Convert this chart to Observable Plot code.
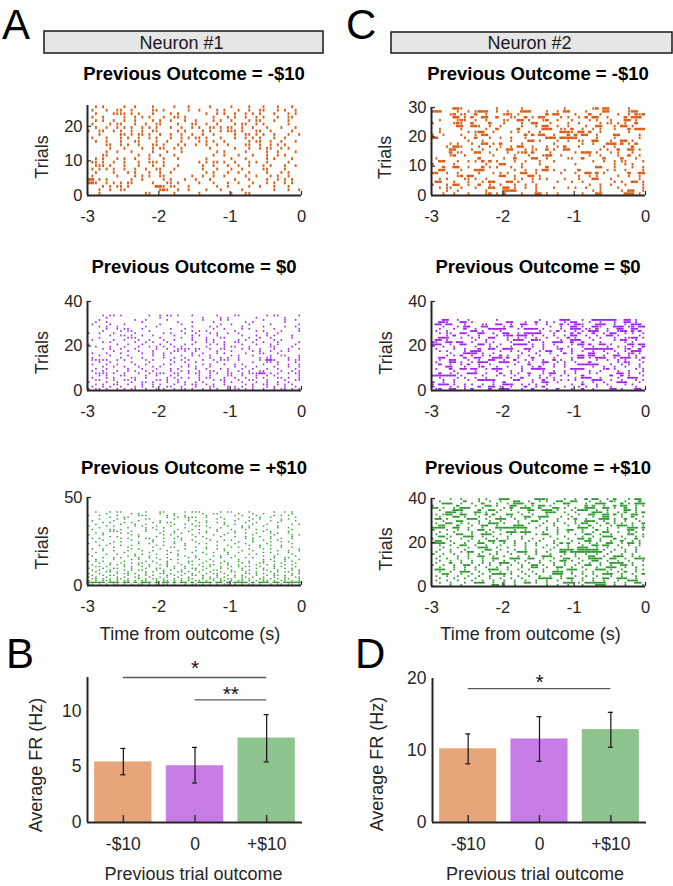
<!DOCTYPE html>
<html><head><meta charset="utf-8">
<script src="https://cdn.jsdelivr.net/npm/d3@7"></script>
<script src="https://cdn.jsdelivr.net/npm/@observablehq/plot@0.6"></script>
<style>
body{margin:0;background:#fff;}
#fig{position:relative;width:673px;height:886px;overflow:hidden;background:#fff;font-family:"Liberation Sans",Arial,Helvetica,sans-serif;}
.panel{position:absolute;}
#ann{position:absolute;left:0;top:0;pointer-events:none;}
</style></head><body><div id="fig"></div>
<script>
// ---------------- DATA ----------------
// Raster rows, top trial first; each character is a 50 ms bin from -3 s to 0 s.
// 'i' = single spike, '-' = burst filling the bin, '.' = no spike.
const timeTicks = [-3, -2, -1, 0];

const rasterA_neg = [
"..i.i.....i..i....i.....i...i.....i.....i....i...i...i...i..",
".i...i..ii..i.....ii.i......i..i....i.i...i..i..ii...i.i..i.",
"..i....iiii.i.i...i....i.i.......i..i.i..i..i.i.i...i...i.i.",
".i..i.....i..i.i.i...i..ii.i.......i...i.i..i..i.i...i..ii..",
"..i.i..i..i..i....i.i..i...i..i....i.i..i....i.ii...i...i...",
".i....i.ii...i..i..ii....i...ii..i..i....i.ii..i.i......i...",
"..i..i..i.i.i..i.i.i...i..i..i.i..ii.i.ii..i..i...i...i...i.",
"i..ii..i.i..i..i..ii.....i.i....i.i..i.iii.i...ii..i.....i..",
"...i.....ii.i.ii.i..i..i..i..i..i..i.....i..ii.i.i..i...i..i",
".i...i...i.i..i..i.i...i..i.i.ii.i...i...i..i.i.i...i..i....",
"..i..i...i...ii....i..i...i....i.i.i..i......i.ii..i..i...i.",
".....ii..i.i..i...ii.i...i.i..i..i..i..i....ii..i..i.i.i....",
"......i...i....i..i.ii..i.i.......i......i...i..i.ii..i.i...",
".....i..i...i.....i...i...i.........i.i.....i.....i..i....i.",
"....ii........i..i..i...i..........i..i...i...i...i..i.i....",
"..i.i...i.i..i...i...i...i.......i......i...i.....i.i....i..",
".ii.i..i..i...i..iii.i.........i.i.ii.i..i...i.i..i.....i...",
"..iii.i...i...i...i..i...i......i..i...i..i..i...i.i...i..i.",
".i.i.i.i..i..i..i..ii...i.......i...i...i..i.....ii....i....",
"..i....i...i.i...i..i..i.........i.i...i..i..i....i...i.i...",
".i......i....i.i.i..ii.......i..i..i..i.....i..i...i.i..i...",
"--.i.i......i..i.....i.i...i..i...i......i...i....i..i.i.i..",
"--i..i.i.i.ii.....i...ii.i.....i...i...i..i...i...i.i..i.i..",
"....i.i.ii.i.......--i.ii...i.......i..i.....i..i...i...i...",
"...i..i..ii.........i-i..i..i....i...i.....i........i...i..i",
"...i............ii......i......i........i...ii.............."
];

const rasterA_zero = [
"....i.ii.i.......i..i.ii.i...i......i....ii.......i.ii.....i.",
".....i..............i...........i....i.i.......i.......i.....",
"...i.........i..i.....i.........i....i.i.........i.....i..i..",
"..i..i.........i.........i...i.....i........i.i........i.....",
".i....i...i.........i.....i..........i..i....i.....i.......i..",
"...i.i..i.......i..i.........i....i.i......i.....i.....i..i...",
".....i..i.ii...i.......i...i.......i..i....i.i......i......i..",
"....i....i.ii....i........i..i.i.i.......i.....i.i....i....ii.",
"i..i...i.....i.......i.i...i..i...i.i..i..i.......i..i......i",
"......i..ii.i..i..i.....i....i.i....i......i...i..i.i....i..",
"...i.......iii......i.....i..i...i...ii......i..i..i.....i..i",
".i.....i..i...i..i...i..i....i...i.i......i.i..i....i.i.....",
"....i.i......i..i.i...i.......i..i.i..i..ii...i..i...i.....i.",
"i.......i..i...i....i..i...i.i....i.i.i....i...i...i.i....i..",
"..i...i...i...i..i.i.i..i.i......i....i.ii...i.....ii....i...",
"....i.i..i...i.....i..i..iiii.ii..i..ii....i.i..i...i...i..i.",
".......i...i..i...i.....ii.i..i.....i...i.....i.i..i..i.i....",
".i...i...i.....i..i..i.i.....i..i...i.i.....i...ii...i.......",
"...i..i....i......i..i....i..i.i..i.....i.i...i....i..ii...i.",
".i.......i..i..i.....i..i..i......i..i.i..i.....i.ii....i..i.",
".iiiii..i.i.....i.i....i..i.i...i..i.iii..i.....i.--i...i.ii.",
"...i..i.....i....i......i..i..i.....i.........i...ii.i....i..",
".i...i..i....i..i....i.i....i...i.i...i..i.i.....i...i..i..i.",
"....i..i..i...i...i.i.....i.i.i...i......i..i..i....i...i..i.",
"..i..i.....i...i...i...i.i....i..i...i.i...i..i...i..i....i..",
".i..i...i..i.i..i.i....i..i.i..i..ii...i..i..i..ii....i..i.i.",
"..iiii.i..i...i..i.iii..ii..i.ii..i.i..ii..i.iii--.i.i..i.ii.",
"...i.i...ii.....i..i...i.i.....i..i....ii..i...i..i.i......i.",
".i...i.i....ii..i.....i.i.i.i..i.ii...i..i..i..i.i...ii.i..i.",
"..ii...i..ii.i.....ii.i..i.....i...i.ii...i..ii...i....i..ii.",
"i....i..i...i..ii.i...i..i.i..i.i.....i.i..i...i..i..i..i....",
"..i.i..ii..i...i..i.i...i..i.ii..i.i..i.....i.i..ii..i.i.i..i",
".i..i.i..i...i.i..i...ii..i...i...ii...i.i.i..i...i.i..i..i..",
"i.ii.i..i.i.ii..i..i.i..i.ii.i..i.i.i..i.ii.i.i..i..i.ii.i.i."
];

const rasterA_pos = [
"..i...i.ii......i...ii.....i.iii.....i.ii....i......i..i.i...",
".....i......i.i.....i...i.......i..ii.....i...i..i.......i..i.",
"i..i....i.....iii.....i.i..i.....i.......i.i...i....i.i.i.....",
"......i...ii..........i..i.iiii..i...i.......i..i..i......i..i",
"...i....i.i.....ii......i...i.......i.i...i...i.i.....i.i...i.",
".i.....i......i.....i.......i.i..i.......i...i.....i..i...i...",
"....i.i...i.i.....i.i.ii.......i.i..i.i.....i..i.....i......i.",
"..i......i...i..i.......i..i.i........i..i....i...i......i.i..",
"i....i.i.....i.i...i...i......ii.i.....i...i.i...i...i......i.",
"...i.......i....i.i..i.....i......i..i.....i.i.......i..i.....",
".i....ii.i......i..i.....i...i.i....i...i...i..i..i......i..i.",
"......iii...i...i....i..i...i....i..i....i.......i.i....i.....",
"..i.i....i.i........i...i.i....i.i.....i.i..i..i...i.i..i...i.",
"i...i.......i.i......i.i.....i.....i..i.......i.....i....i.i..",
"......i.i.....i....i.....i....i.i....i...i..i...i..i.....i....",
".i.i.....i.i....ii...i..i.i......i..........i.i....i..i..i....",
"....i.......i.....i.......i..i....i...i.i.....i..i...i......ii",
"..i....i.i....i...i..i..i.....i.....i.....i...i....i..i.i.....",
"i.....i.......i..i......i..i...i.i.......i..i.....i......i..i.",
"...i.i...i..i......i.i.....i........i..i.....i..i..i..i.......",
".......i...i......i....ii.....i..i......i.i.....i.....i..i..i.",
".i..i.......i.i.....i......i.....i..i.i......i...i.i.......i..",
"....i..i...i...i..i...i..i....i.......i....i..i......i..i..i.",
"..i.......i......i.....i.....i..i..i...i..i......i.i....i.....",
"i....i..i....i.i...i..i..i.......i.....i.....i.i.....i...i..i.",
".i.........i.i...i.......i.i..i....i.i...i.......i..i.....i...",
"....i..i.i....i..i.i..i.....i.i......i..i...i.i.....i..ii...i.",
"..i....i....i.i.....i..i.i.....i..i.......i......i.i...i...i..",
"i.i.i.....i.....i.i...i.....ii...i.i..i...i..i...i..i..i.i...i",
"...i..i..i..i.ii...i..i..i..i...i....i.i...i.i..ii....i...i...",
".i....i.i.i...i..i..i.i...i..i.i..ii...i..i....i..i.i..i.i..i.",
"..ii.i....i.i..i.i....i.i..i....i.i..i..i.i.ii..i...i.i...i.i.",
"i...i..ii...i...i..ii...i..i.ii..i...i.i...i...i.i..i..i.i..ii",
".i.i..i...i.i.ii...i.i.i..i...i.i..ii...i..i.i...ii..i...i.i..",
"..i..ii.i..i....i.i..i...ii.i..i..i..i..ii..i..i...i.i.ii..i..",
"i..i....i.ii.i..i...ii.i...i.i...i.ii.i.....ii.i.i..i....i.i.i",
".i..i.ii...i..i.i.i...i.i.i..ii.i...i..i.i.i...i..i.ii.i.i....",
"i.i..i..i.i..ii..i..i.i..i..i...i.i.i.i..i.ii.i..i..i..i..ii.i",
".ii.i.i.ii.i..i.i.ii.i..i.i.ii..i.ii.i.ii..i.i..ii.i.i.ii..i.i.",
"i.i.iii.i.ii.i.ii..i.ii.i.i.i.ii.i.i.ii.i.ii.i.i.ii.i.ii.i.i.ii",
"-----.---.--.-.---.-.--.-.--.-.----.--.-.----.-.---.--.------",
"ii.i.i.ii.i.i.ii.i.i.ii.i..i.ii.i.i.i.ii.i.i.ii.i..i.ii.ii.i.i"
];

const rasterC_neg = [
"......--i.........i......i...........i.......i-.--.....i....",
"---....i..i.i---..i..i...---....i..i.--....i....--.....i--..",
".....i-.ii..-..i....i-i.i.......-.--....i...-..i....i..i.-i-",
"......--.i.-..--..-...ii..-.i.--....i.i..i.-.--..i....-.---.",
"..i....i-i..i..i....ii..--.i...i-..i...i....i.i...i...--.i..",
"i.....i-i..-....-...i....i..--...i....i..i.....i.ii.i.i..-..",
".......--..--i..i..i.....i...i.--..i..i....i..--...i.--.i...",
"..i.....i......i..-.....-......---..ii.-..i..i.i...i...-.---",
"..i.......i.i--..i....i.i..i..i.....---i.--.-..i.......i....",
"i..i....i...i.--..........-.-.--..i...-.-.--..i....--.....i.",
"--.......i..-...i..i..i...i.....---.-----.....i....i......i.",
"..........i...i.......i....--.i....i..i..ii..--...i..--.i...",
".....i.i...i..--.i.-.....i........i.......i..i...---.-.i.-..",
"....i.--i....i..i..i..i.--..i...i..i.-...i......i..i....-...",
".....--....i..i...i..--...i.ii..-.i..--........i.i..-..--.i.",
".....-.ii...--..i....i..ii-.-....i......i.---.i...i.i...i...",
".....i-..i.......i.....i...i...i--..i.......i..i....i..-..i.",
".i...........-......i..-....--..i.....ii..-.....-....-...i..",
"..--...i..i.i.-.-.i....i..i...i...i..........i..i..i.ii....i",
"i.....i........i...--....i....i.........i..........i..i.i...",
"...-..--..i...-.i.i...i..i......-.............--...i....i..i",
"..--....i...---........i..i..i.--.i..i...-.......i.i..i....i",
"--..i..i.....i...i.i.i...--..i......i...i..--.-.i......-..--",
".......i-.--.......--..i...--.i..........i..i.i.....i..i..i.",
"..i.i....ii.i..i.......i.i..i.i.i....i...i...--...i.......i.",
".--...i...i...i.--...--.i...i......i...i..i........i.i..--.i",
"i...i.--..i..-..i..i...i..i..i..............i..i..i...i....i",
"..i.ii..i...i...--..--.i..i..i....i...i.i..i...i....i......i",
"....i..i.......i....----.....i...............i.i.....i.--..i",
"...i..i...i....i-.i.-....i...--.i..i......i...--......---.i."
];

const rasterC_zero = [
"...--..i..i.......i...........i.....---...i..-------..--.i..",
"..--i...--.i.........--...i..-..i.i..i.--...i..i...i..--.i..",
".--.--...i....ii..--..i..--..i..i...-.i.--i...---..i..i.---.",
"...i...i.--...--....i.-..i.......i..i..--.i..--i...---.i-.--",
"..i...i..-..i...-----...i.----.i....i..---.ii.-..i..--..--..",
".i..i......--.i....i..........i..i.-.i..i.i.---..i..i--.-.-.",
"..i.ii..--...--..i..--..i.-----...i....-.-...-..i.--..i.i..i",
"....i.-...i..i....i.i--.---.i..i..i..i.--..i..i..--.i.....i.",
"..---...i..i.i..--...i..i.i..i..i..i..-.i...i..i...i..ii--.i",
".--.i.......i..i.....i.---..--i.....i..---...i.....i.--..i..",
"-i..--.--..i...i.i....i....i...i..---..-..-....i......i.i...",
"---..i..--...--.i..i...----.i..i..i....i.--.-..--.i....--.--",
"...i..i.....i...i.i...i.....i..i...i..i...i..i...i..i.i.i..-",
".i....i..i...-..--..---...--...i...i-..i...--------...i-..-.",
"..i.i....i.---.....i..i.i..i..i.--..i..i..i..i..i..i..i.---.",
".....i...----.i..i.......i...i...i...-.i....--...i..i..i-.i.",
"....i.i.-..i..i.i..-.i..i..i..i....i.....--.--..i..--..i.i..",
"..--.....-..--...---.-..i...-.....i....i.--.i.---..i.---.i.-",
"..i..--...i..i..--..i..-..i.i..i..-.i..i......i..i..i.i...i.",
".i...--.i..i.---...---..i..i...--..i.i..i...-.......i.-i...i",
"..-..i..i.-..i..i......i...-...i..i..i...------...i..i.i..i.",
"....--...i...i-...i..i...i..i.-...i..i.......i..i..i..i...i.",
".i...-..--.--..i.---.....i..----.......----.....i-.i.....i.i",
"......i.....i.....i...i..i.....i..i..i..i...i..i....i..i...i",
"..-..i.i..---..i...-..i.i..-...i.--..i..i...i.i.....--.i..i.",
"-------.i.....i...i.i..i...i..i..i..i.i...-.......-..-.i...i",
"..i....i.i..i..i......i..-....i.i.i.....i.---..i....i..---..",
"...i..i...i..-----.....--...i..-..i.i.i.i....---..i..i...i.i",
"-..i..i..........i..-.......i..--..i......i..i..i...---...i.",
"i.---.i..i.i..i..i..---..i.i.i..i......i..-...i..i....i.i...",
"-....i.i.i...-..--.i..i...-..i.-.....i...i.i..i...i......i..",
".i-..--..i.-....-..---...i..-...i..-...i..-..i....--.i...--."
];

const rasterC_pos = [
".....i..i....i.i...---.......---i....i..i..-.--..i.-...i.--.",
"..i......-...i..i..i...--..i..i.i..--..--...i..i..-i..i...-.-",
"...---..i..i..-...i..i.---..-.....i..--....i..---....-.i.---",
"i......-....i..--.i...--..i.i.--.i....i....-.-..i..-.--..i.i-",
"--.i..i.---...i.....i.-..---..-...--.i..i..---..--.i..-..i..",
"..i...---....-..--.i..i....--..---.i...i.---..i..i....--.i..-",
"....---.i...--.i..i.....i..i....---..i..i....---.i..i.-..i.-.",
".i.i--..--..i..-.-...--..i..i...i.....i..i..--..--.-.i..--...",
"..i...--.i...i..i..i..i...--..---...i..i.....i..--...i..-..i.",
".--.i.....---..i..---..i..i...i....i..i.-..i...---.i..-..i..-",
"...i...--....i..i..i....i...--..i..i....i..---..i..i..i...i..",
".i..--..i.i..i..---.i...i..i...i..i..i..i.--..i..-.i.i..i..--",
"..--...-...i..--..i....---....i...i...i..i..-..i..i.---.i..i.",
"----..--..i...i...---------..i..i..i.....---.i...i..i..---.--",
"-...i..i..i..--.i..i...i..i.....i..i..--..i...-..i.....--..i.",
"..i...i....i...i.i...---.---...i...i..i...i..i..--..i..i.i...",
".i..i..--..i..---..i..i...i..i.--..i....i..--..i..i....--..i.",
"..--.i...---..i..i...i...i.......i...i....i..i..---..i...i.i.",
"i...i...i..i...i..i..i...i..i..i...i..i..--.-..i...-..i..-..i",
".--..i....i..i..--.--..i...i..i...i....i...--..i..i..-..i.i..",
"----..i..i...--..i..i..i..i..i....i.-.-..i..i.i..--..i.--.i..",
"..i..i..--..i..i...i...i..i..i..i..i..i...i..--.--..i..i..i.i",
"...i...i..i..---..i..i....i....i..i...i..---..i..i...i...i..i",
"..i..i...i.....--..i...i..i..i...i..----.------.i..i..i..i...",
".i...i..i.--..i...i..i..---..i..i...--.---------..i...i..i..-",
"-..i..i...i..i..i.i...i...i..i...i...i..i..i..i..i...i..i....",
"..i....i..i..--..i..i...i..i...---..i...i...--..i..---..i.i..",
".i..i..i..i...i..--...---..--..i..i..--..i..----..--..i..---.",
"..i..i..i..i..i..i..i..i..i...i..i..--.i..i..--..i..i..i...i.",
".i...-..i..i..i.i..---..i..i..i...i..i...i..i..i..----..i...i",
"i..i..i..--..i..i..i..i..i..--.i..i..i..i..--..i..i..--.i..i.",
"..i...i..i..i..i..i..i...i..--..i..--..i..i...i..---..i..i...",
".---..i..i..i...---..i..i..i...i...i..---..i..---.i..i...i.i.",
"..i..i..---..i..i..i..i..i..i..i..---..i..i..i...i..i.-..i..i",
"...--...i..i..i..----.i...i..i....---..i..i..i..---..i..i..--",
".i..i..i..i..i..i...i...i..i..i..i..i...i..i..i...i..i...i..-",
"..i...i..i..i...i..i..i..i....----..i.--..i..i..--..---..i..i",
".i..i..i...i..i..i..i..i..i..i..i..i...i..i..i..i...i..---..i",
"..i..i...i..---..i..i..i..--.i..i....---.i.------..i..i..--..",
".....i..i........--.i..i........i..i..i...i...---..i..i....i."
];

const barCategories = ["-$10", "0", "+$10"];
const frB = [5.43, 5.09, 7.57];
const frB_lo = [4.28, 3.54, 5.43];
const frB_hi = [6.64, 6.73, 9.67];
const frD = [10.24, 11.6, 12.9];
const frD_lo = [8.15, 8.5, 10.45];
const frD_hi = [12.3, 14.7, 15.3];
// significance brackets: from category, to category, height, label, label height
const sigB = [{from: 1, to: 3, y: 13.0, label: "*", ly: 14.4}, {from: 2, to: 3, y: 11.0, label: "**", ly: 12.0}];
const sigD = [{from: 1, to: 3, y: 18.6, label: "*", ly: 20.3}];

const yTicksA = [[0, 10, 20], [0, 20, 40], [0, 50]];
const yTicksC = [[0, 10, 20, 30], [0, 20, 40], [0, 20, 40]];
const yMaxA = [26, 40, 50];
const yMaxC = [30, 40, 40];
const yTicksB = [0, 5, 10];
const yTicksD = [0, 10, 20];

// ---------------- STYLE ----------------
const FONT = '"Liberation Sans", Arial, Helvetica, sans-serif';
const AX = "#262626";
const colOrange = "#dc5d14", colPurple = "#a020ef", colGreen = "#2b9a2b";
const barColors = ["#e6a67a", "#c87ce8", "#8ec58e"];

const fig = document.getElementById("fig");

function place(svg, left, top) {
  const d = document.createElement("div");
  d.className = "panel";
  d.style.left = left + "px";
  d.style.top = top + "px";
  d.appendChild(svg);
  fig.appendChild(d);
}

const NB = 60, T0 = -3, BIN = 0.05;
function spikes(rows, tickW) {
  const n = rows.length, out = [];
  rows.forEach((s, k) => {
    const trial = n - 1 - k;
    for (let j = 0; j < Math.min(s.length, NB); j++) {
      const c = s[j];
      if (c === "i" || c === "-") out.push({t: T0 + (j + 0.5) * BIN, trial, w: c === "-" ? BIN * 1.02 : tickW});
    }
  });
  return out;
}

function raster(rows, color, frame, ymax, yticks, tickW, fillFrac) {
  const [x1, y1, x2, y2] = frame;
  const ml = 45, mr = 12, mt = 8, mb = 34;
  const pw = x2 - x1, ph = y2 - y1;
  const data = spikes(rows, tickW);
  const pad = (1 - fillFrac) / 2;
  const svg = Plot.plot({
    width: ml + pw + mr, height: mt + ph + mb,
    marginLeft: ml, marginRight: mr, marginTop: mt, marginBottom: mb,
    style: {background: "transparent", overflow: "visible", maxWidth: "none", fontFamily: FONT, color: AX},
    x: {domain: [-3, 0], label: null},
    y: {domain: [0, ymax], label: null},
    marks: [
      Plot.rect(data, {x1: d => d.t - d.w / 2, x2: d => d.t + d.w / 2, y1: d => d.trial + pad, y2: d => d.trial + 1 - pad, fill: color}),
      Plot.ruleX(timeTicks, {x: d => d, y1: 0, y2: ymax * 4 / ph, stroke: AX, strokeWidth: 1.2}),
      Plot.ruleY(yticks, {y: d => d, x1: -3, x2: -3 + 3 * 4 / pw, stroke: AX, strokeWidth: 1.2}),
      Plot.ruleY([0], {stroke: AX, strokeWidth: 2}),
      Plot.ruleX([-3], {stroke: AX, strokeWidth: 2}),
      Plot.axisX({ticks: timeTicks, tickSize: 0, tickPadding: 15, tickFormat: d => String(d), fontSize: 16.5, label: null}),
      Plot.axisY({ticks: yticks, tickSize: 0, tickPadding: 5, tickFormat: d => String(d), fontSize: 16.5, label: null})
    ]
  });
  place(svg, x1 - ml, y1 - mt);
}

function bars(vals, lo, hi, sig, frame, ymax, yticks) {
  const [x1, y1, x2, y2] = frame;
  const ml = 45, mr = 12, mt = 50, mb = 34;
  const pw = x2 - x1, ph = y2 - y1;
  const data = vals.map((v, i) => ({i: i + 1, v, lo: lo[i], hi: hi[i], c: barColors[i]}));
  const idx = data.map(d => d.i);
  const svg = Plot.plot({
    width: ml + pw + mr, height: mt + ph + mb,
    marginLeft: ml, marginRight: mr, marginTop: mt, marginBottom: mb,
    style: {background: "transparent", overflow: "visible", maxWidth: "none", fontFamily: FONT, color: AX},
    x: {domain: [0.5, 3.5], label: null},
    y: {domain: [0, ymax], label: null},
    marks: [
      Plot.rectY(data, {x1: d => d.i - 0.4, x2: d => d.i + 0.4, y: "v", fill: "c"}),
      Plot.ruleX(idx, {x: d => d, y1: 0, y2: ymax * 7 / ph, stroke: "#3a3030", strokeWidth: 1.5}),
      Plot.ruleX(data, {x: "i", y1: "lo", y2: "hi", stroke: "#111", strokeWidth: 1.2}),
      Plot.ruleY(data, {y: "hi", x1: d => d.i - 0.035, x2: d => d.i + 0.035, stroke: "#111", strokeWidth: 1.2}),
      Plot.ruleY(data, {y: "lo", x1: d => d.i - 0.035, x2: d => d.i + 0.035, stroke: "#111", strokeWidth: 1.2}),
      Plot.ruleY(sig, {y: "y", x1: "from", x2: "to", stroke: "#5a5a5a", strokeWidth: 1.3}),
      Plot.text(sig, {x: d => (d.from + d.to) / 2, y: "ly", text: "label", fontSize: 21, fill: "#111", dy: 6}),
      Plot.ruleY([0], {stroke: AX, strokeWidth: 2}),
      Plot.ruleX([0.5], {stroke: AX, strokeWidth: 2}),
      Plot.axisX({ticks: idx, tickSize: 0, tickPadding: 15, tickFormat: i => barCategories[i - 1], fontSize: 17.5, label: null}),
      Plot.axisY({ticks: yticks, tickSize: 0, tickPadding: 6, tickFormat: d => String(d), fontSize: 17.5, label: null})
    ]
  });
  place(svg, x1 - ml, y1 - mt);
}

// frames: [left, top, right, bottom] of each plotting area
const framesA = [[87, 105, 301, 195], [87, 301, 301, 390], [87, 497, 301, 585]];
const framesC = [[431, 107, 645, 195], [431, 301, 645, 390], [431, 498, 645, 586]];
raster(rasterA_neg, colOrange, framesA[0], yMaxA[0], yTicksA[0], 0.026, 0.82);
raster(rasterA_zero, colPurple, framesA[1], yMaxA[1], yTicksA[1], 0.021, 0.78);
raster(rasterA_pos, colGreen, framesA[2], yMaxA[2], yTicksA[2], 0.021, 0.75);
raster(rasterC_neg, colOrange, framesC[0], yMaxC[0], yTicksC[0], 0.026, 0.85);
raster(rasterC_zero, colPurple, framesC[1], yMaxC[1], yTicksC[1], 0.024, 0.82);
raster(rasterC_pos, colGreen, framesC[2], yMaxC[2], yTicksC[2], 0.024, 0.82);
bars(frB, frB_lo, frB_hi, sigB, [87, 677, 302, 822], 13, yTicksB);
bars(frD, frD_lo, frD_hi, sigD, [432, 678, 646, 822], 20, yTicksD);

// ---------------- ANNOTATIONS ----------------
const ann = d3.select(fig).append("svg").attr("id", "ann").attr("width", 673).attr("height", 886)
  .style("font-family", FONT);
const titles = ["Previous Outcome = -$10", "Previous Outcome = $0", "Previous Outcome = +$10"];
const titleY = [80, 272.5, 473.5];
[194, 538].forEach(cx => {
  titles.forEach((t, k) => ann.append("text").attr("x", cx).attr("y", titleY[k]).attr("text-anchor", "middle")
    .attr("font-weight", "bold").attr("font-size", 18.5).attr("fill", "#000").text(t));
});
const trialsPos = [[41, 157], [41, 352.7], [41, 548], [384.5, 157.5], [385, 353], [385, 549]];
trialsPos.forEach(([x, y]) => ann.append("text").attr("transform", `translate(${x + 6.5},${y}) rotate(-90)`)
  .attr("text-anchor", "middle").attr("font-size", 18).attr("fill", AX).text("Trials"));
[190, 530.5].forEach(cx => ann.append("text").attr("x", cx).attr("y", 640).attr("text-anchor", "middle")
  .attr("font-size", 18).attr("fill", AX).text("Time from outcome (s)"));
[193.5, 535].forEach(cx => ann.append("text").attr("x", cx).attr("y", 880).attr("text-anchor", "middle")
  .attr("font-size", 18).attr("fill", AX).text("Previous trial outcome"));
[[35, 765], [376, 764]].forEach(([x, y]) => ann.append("text").attr("transform", `translate(${x + 6.5},${y}) rotate(-90)`)
  .attr("text-anchor", "middle").attr("font-size", 18).attr("fill", AX).text("Average FR (Hz)"));
// neuron header boxes
[[44, 31, 279, 22, "Neuron #1"], [391, 32, 281, 21, "Neuron #2"]].forEach(([x, y, w, h, t]) => {
  ann.append("rect").attr("x", x).attr("y", y).attr("width", w).attr("height", h)
    .attr("fill", "#e6e6e6").attr("stroke", "#1a1a1a").attr("stroke-width", 1.5);
  ann.append("text").attr("x", x + w / 2 - 2).attr("y", y + h - 4).attr("text-anchor", "middle")
    .attr("font-size", 18).attr("fill", "#1a1a1a").text(t);
});
// panel letters
[["A", 2, 38.5], ["C", 346, 38.5], ["B", 6, 668], ["D", 355, 668]].forEach(([t, x, y]) =>
  ann.append("text").attr("x", x).attr("y", y).attr("font-size", 42).attr("fill", "#000").text(t));
</script></body></html>
